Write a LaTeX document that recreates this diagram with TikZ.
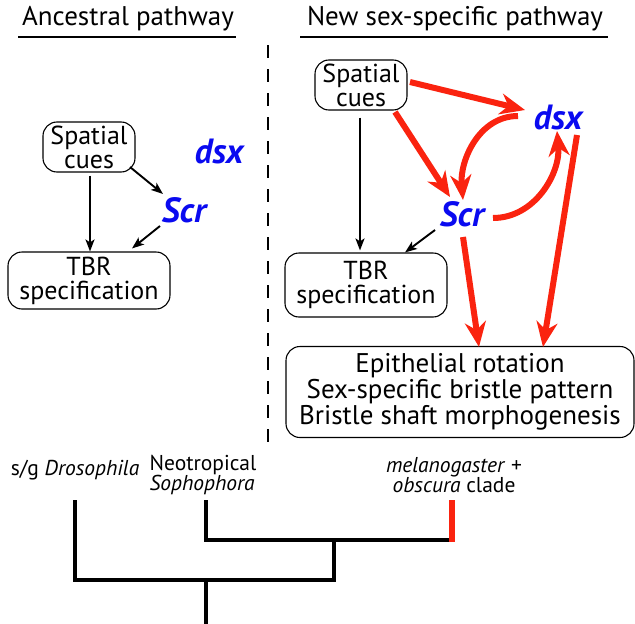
\documentclass[tikz,border=0pt]{standalone}
\usepackage{fontspec}
\setmainfont{PT Sans}
\usetikzlibrary{arrows.meta}
\definecolor{rd}{RGB}{250,35,15}
\definecolor{bl}{RGB}{10,10,240}
\begin{document}
\begin{tikzpicture}[x=1pt,y=-1pt,
  box/.style={draw,line width=1.1pt,rounded corners=14pt,align=center,inner sep=0pt,
    font=\fontsize{26}{24}\selectfont},
  gene/.style={text=bl,font=\fontsize{35}{35}\selectfont\bfseries\itshape,inner sep=1pt},
  blk/.style={line width=1.9pt,-{Stealth[length=12pt,width=9pt,inset=3pt]}},
  red/.style={draw=rd,line width=6pt,-{Stealth[length=25pt,width=21pt,inset=8pt]}},
  ttl/.style={font=\fontsize{27}{27}\selectfont},
  lab/.style={font=\fontsize{21.5}{18}\selectfont,inner sep=0pt},
  tree/.style={line width=4.5pt}]
\useasboundingbox (0,0) rectangle (635,624);
% titles
\node[ttl] (t1) at (128,19) {Ancestral pathway};
\node[ttl] (t2) at (455,19) {New sex-specific pathway};
\draw[line width=1.3pt] (18,37) -- (236,37);
\draw[line width=1.3pt] (300,37) -- (608,37);
\draw[line width=1.3pt,dash pattern=on 13pt off 11pt] (268,45) -- (268,445);
% left
\node[box,minimum width=92pt,minimum height=50pt] (sc1) at (89,147) {Spatial\\cues};
\node[gene] (dsx1) at (219,151) {dsx};
\node[gene] (scr1) at (184,210) {Scr};
\node[box,minimum width=162pt,minimum height=57pt] (tbr1) at (89,280.5) {TBR\\specification};
\draw[blk] ([shift={(1,3)}]sc1.south) -- ([shift={(1,0)}]sc1.south |- tbr1.north);
\draw[blk] ([shift={(41,20)}]sc1.center) -- ([shift={(-21,-16)}]scr1.center);
\draw[blk] ([shift={(-24,16)}]scr1.center) -- ([shift={(43,-3)}]tbr1.north);
% right
\node[box,minimum width=92pt,minimum height=50pt] (sc2) at (361,85) {Spatial\\cues};
\node[gene] (dsx2) at (558,117) {dsx};
\node[gene] (scr2) at (462,214) {Scr};
\node[box,minimum width=162pt,minimum height=64pt] (tbr2) at (366,285) {TBR\\specification};
\node[box,minimum width=348pt,minimum height=91pt,font=\fontsize{27}{26}\selectfont] (epi) at (460,392) {Epithelial rotation\\Sex-specific bristle pattern\\Bristle shaft morphogenesis};
\draw[blk] ([shift={(-1,7)}]sc2.south) -- ([shift={(-1,-2)}]sc2.south |- tbr2.north);
\draw[blk] ([shift={(-27,16)}]scr2.center) -- ([shift={(39,0)}]tbr2.north);
\draw[red] ([shift={(49,-3)}]sc2.center) -- ([shift={(-33,-7)}]dsx2.center);
\draw[red] ([shift={(34,27)}]sc2.center) -- ([shift={(-12,-17)}]scr2.center);
\draw[red] ([shift={(-40,-1)}]dsx2.center) to[out=180,in=95] ([shift={(1,-14)}]scr2.center);
\draw[red] ([shift={(31,4)}]scr2.center) to[out=0,in=-85] ([shift={(-1,14)}]dsx2.center);
\draw[red] ([shift={(1,23)}]scr2.center) -- ([shift={(19,1)}]epi.north);
\draw[red] ([shift={(19,18)}]dsx2.center) -- ([shift={(83,1)}]epi.north);
% tree
\node[lab] (l1) at (75,470) {s/g \textit{Drosophila}};
\node[lab,align=left] (l2) at (203,475) {Neotropical\\\textit{Sophophora}};
\node[lab,align=center] (l3) at (454,475) {\textit{melanogaster} +\\\textit{obscura} clade};
\coordinate (a) at (75,500);
\coordinate (b) at (206,500);
\coordinate (c) at (452,500);
\draw[tree] (a) -- (75,580) -- (334,580) -- (334,538);
\draw[tree] (b) -- (206,540) -- (452,540);
\draw[tree] (206,580) -- (206,626);
\draw[line width=6pt,draw=rd] (c) -- (452,542.25);
\end{tikzpicture}
\end{document}
